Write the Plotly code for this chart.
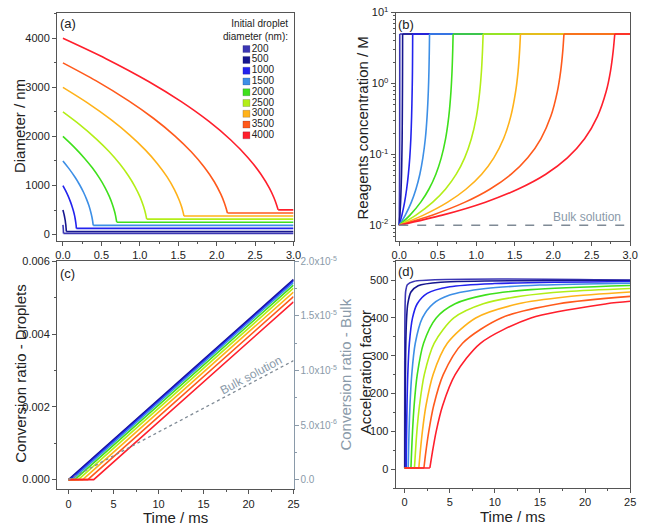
import plotly.graph_objects as go

W, H = 647, 525
FONT = "Liberation Sans, Arial, sans-serif"

# ---------------- data ----------------
diam_labels = ["200", "500", "1000", "1500", "2000", "2500", "3000", "3500", "4000"]
colors = ["#3b36b4", "#16168f", "#2323ee", "#3d8fe6", "#3fe01c",
          "#b3ee18", "#ffb21a", "#ff5a1c", "#ff1f2c"]

# panels (a) and (b): time (ms) per initial diameter
time_ab = [
    [0, 0.0014, 0.0028, 0.0039, 0.0048, 0.0055, 0.006, 0.0064, 0.0067, 0.0069, 0.00695, 0.007, 3.0],
    [0, 0.009, 0.018, 0.024, 0.030, 0.034, 0.038, 0.040, 0.042, 0.043, 0.0437, 0.044, 3.0],
    [0, 0.035, 0.07, 0.096, 0.119, 0.137, 0.151, 0.161, 0.168, 0.172, 0.174, 0.175, 3.0],
    [0, 0.079, 0.158, 0.217, 0.268, 0.307, 0.339, 0.362, 0.378, 0.386, 0.391, 0.394, 3.0],
    [0, 0.14, 0.28, 0.385, 0.476, 0.546, 0.602, 0.644, 0.672, 0.686, 0.695, 0.70, 3.0],
    [0, 0.218, 0.436, 0.600, 0.741, 0.850, 0.937, 1.003, 1.046, 1.068, 1.082, 1.09, 3.0],
    [0, 0.315, 0.63, 0.866, 1.071, 1.229, 1.355, 1.449, 1.512, 1.544, 1.564, 1.575, 3.0],
    [0, 0.428, 0.856, 1.177, 1.455, 1.669, 1.840, 1.969, 2.054, 2.097, 2.125, 2.14, 3.0],
    [0, 0.56, 1.12, 1.54, 1.904, 2.184, 2.408, 2.576, 2.688, 2.744, 2.780, 2.80, 3.0],
]
diameter_a = [
    [200, 179, 156, 135, 115, 96, 78, 62, 47, 38, 30, 25, 25],
    [500, 448, 389, 339, 288, 241, 196, 154, 118, 94, 75, 63, 63],
    [1000, 896, 779, 677, 575, 482, 392, 308, 235, 189, 151, 126, 126],
    [1500, 1344, 1168, 1016, 863, 723, 588, 461, 353, 283, 226, 189, 189],
    [2000, 1792, 1557, 1355, 1150, 964, 784, 615, 470, 378, 302, 252, 252],
    [2500, 2241, 1947, 1693, 1438, 1205, 980, 769, 588, 472, 377, 315, 315],
    [3000, 2689, 2336, 2032, 1726, 1446, 1176, 923, 706, 566, 453, 378, 378],
    [3500, 3137, 2725, 2371, 2013, 1687, 1372, 1077, 823, 661, 528, 441, 441],
    [4000, 3585, 3115, 2709, 2301, 1928, 1568, 1230, 941, 755, 604, 504, 504],
]
# reagent concentration (M), same profile for every droplet size
conc_b = [0.01, 0.01389, 0.02118, 0.0322, 0.0525, 0.0893, 0.166, 0.344, 0.769, 1.486, 2.91, 5.0, 5.0]
bulk_b_time = [0, 3.0]
bulk_b_conc = [0.01, 0.01]

# panel (c): conversion ratio in droplets
time_c = [
    [0, 0.007, 25], [0, 0.044, 25], [0, 0.175, 25], [0, 0.394, 25], [0, 0.70, 25],
    [0, 1.09, 25], [0, 1.575, 25], [0, 2.14, 25], [0, 2.80, 25],
]
conv_c = [
    [0, 0, 0.00550], [0, 0, 0.00549], [0, 0, 0.005462], [0, 0, 0.005413], [0, 0, 0.005346],
    [0, 0, 0.00526], [0, 0, 0.005154], [0, 0, 0.005029], [0, 0, 0.004884],
]
bulk_c_time = [0, 25]
bulk_c_conv = [0, 1.09e-5]

# panel (d): acceleration factor
time_d = [
    [0, 0.007, 0.0077, 0.0088, 0.0105, 0.014, 0.021, 0.035, 0.056, 0.12, 0.3, 1, 25],
    [0, 0.044, 0.048, 0.055, 0.066, 0.088, 0.132, 0.22, 0.35, 0.7, 1.5, 4, 25],
    [0, 0.175, 0.19, 0.22, 0.26, 0.35, 0.525, 0.875, 1.4, 2.5, 5, 10, 25],
    [0, 0.394, 0.433, 0.49, 0.59, 0.79, 1.18, 1.97, 3.15, 5, 9, 15, 25],
    [0, 0.70, 0.77, 0.875, 1.05, 1.4, 2.1, 3.5, 5.6, 9, 14, 25],
    [0, 1.09, 1.2, 1.36, 1.64, 2.18, 3.27, 5.45, 8.72, 13, 18, 25],
    [0, 1.575, 1.73, 1.97, 2.36, 3.15, 4.73, 7.88, 12.6, 18, 25],
    [0, 2.14, 2.35, 2.68, 3.21, 4.28, 6.42, 10.7, 17.1, 25],
    [0, 2.8, 3.08, 3.5, 4.2, 5.6, 8.4, 14.0, 22.4, 25],
]
accel_d = [
    [3, 3, 45, 100, 167, 250, 333, 400, 437.5, 471, 488, 496.5, 500],
    [3, 3, 45, 100, 167, 250, 333, 400, 437, 468.6, 485.3, 494.5, 499],
    [3, 3, 45, 100, 167, 250, 333, 400, 437.5, 465, 482.5, 491, 496.5],
    [3, 3, 45, 100, 167, 250, 333, 400, 437.5, 460.6, 478, 487, 492],
    [3, 3, 45, 100, 167, 250, 333, 400, 437.5, 461, 475, 486],
    [3, 3, 45, 100, 167, 250, 333, 400, 437.5, 458, 470, 478],
    [3, 3, 45, 100, 167, 250, 333, 400, 437.5, 456, 468.5],
    [3, 3, 45, 100, 167, 250, 333, 400, 437.5, 457],
    [3, 3, 45, 100, 167, 250, 333, 400, 437.5, 444],
]

BULK_GREY = "#8a9aa9"
AX = "#555555"
TXT = "#222222"

def px_x(p):
    return p / W

def px_y(p):
    return 1 - p / H

fig = go.Figure()
LW = 1.6

for i in range(len(diam_labels)):
    c = colors[i]
    t = time_ab[i]
    d = diameter_a[i]
    # (a) shrinking part + plateau
    fig.add_trace(go.Scatter(x=t[:-1], y=d[:-1], mode="lines", xaxis="x", yaxis="y",
                             line=dict(color=c, width=LW, shape="spline", smoothing=0.8),
                             showlegend=False, hoverinfo="skip"))
    fig.add_trace(go.Scatter(x=t[-2:], y=d[-2:], mode="lines", xaxis="x", yaxis="y",
                             line=dict(color=c, width=LW), showlegend=False, hoverinfo="skip"))
    # (b)
    fig.add_trace(go.Scatter(x=t[:-1], y=conc_b[:-1], mode="lines", xaxis="x2", yaxis="y2",
                             line=dict(color=c, width=LW, shape="spline", smoothing=0.8),
                             showlegend=False, hoverinfo="skip"))
    fig.add_trace(go.Scatter(x=t[-2:], y=conc_b[-2:], mode="lines", xaxis="x2", yaxis="y2",
                             line=dict(color=c, width=LW), showlegend=False, hoverinfo="skip"))
    # (c)
    fig.add_trace(go.Scatter(x=time_c[i], y=conv_c[i], mode="lines", xaxis="x3", yaxis="y3",
                             line=dict(color=c, width=LW), showlegend=False, hoverinfo="skip"))
    # (d)
    td, ad = time_d[i], accel_d[i]
    fig.add_trace(go.Scatter(x=td[:2], y=ad[:2], mode="lines", xaxis="x4", yaxis="y5",
                             line=dict(color=c, width=LW), showlegend=False, hoverinfo="skip"))
    fig.add_trace(go.Scatter(x=td[1:], y=ad[1:], mode="lines", xaxis="x4", yaxis="y5",
                             line=dict(color=c, width=LW, shape="spline", smoothing=0.8),
                             showlegend=False, hoverinfo="skip"))

# bulk lines
fig.add_trace(go.Scatter(x=bulk_b_time, y=bulk_b_conc, mode="lines", xaxis="x2", yaxis="y2",
                         line=dict(color="#7f8a95", width=1.3, dash="dash"),
                         showlegend=False, hoverinfo="skip"))
fig.add_trace(go.Scatter(x=bulk_c_time, y=bulk_c_conv, mode="lines", xaxis="x3", yaxis="y4",
                         line=dict(color="#7f8a95", width=1.3, dash="dot"),
                         showlegend=False, hoverinfo="skip"))

# legend drawn in its own small axis
fig.add_trace(go.Scatter(x=[7] * len(diam_labels), y=list(range(len(diam_labels))),
                         mode="markers+text", xaxis="x5", yaxis="y6",
                         marker=dict(symbol="square", size=7, color=colors,
                                     line=dict(color="rgba(0,0,60,0.35)", width=0.5)),
                         text=diam_labels, textposition="middle right",
                         textfont=dict(size=10, color=TXT, family=FONT),
                         showlegend=False, hoverinfo="skip"))

def axis(domain, rng, **kw):
    d = dict(domain=domain, range=rng, showline=True, linecolor=AX, linewidth=1,
             mirror=True, ticks="outside", ticklen=4, tickwidth=1, tickcolor=AX,
             showgrid=False, zeroline=False,
             tickfont=dict(size=11, color=TXT, family=FONT))
    d.update(kw)
    return d

xa = [px_x(54), px_x(295)]
xb = [px_x(399), px_x(638)]
ytop = [px_y(237), px_y(5.7)]
yc = [px_y(489), px_y(257.7)]
yd = [px_y(487.5), px_y(257.7)]

fig.update_layout(
    width=W, height=H, margin=dict(l=0, r=0, t=0, b=0),
    paper_bgcolor="white", plot_bgcolor="white",
    font=dict(family=FONT, color=TXT),
    showlegend=False,
    xaxis=axis(xa, [-0.077, 3.0], anchor="y", tickvals=[0, 0.5, 1, 1.5, 2, 2.5, 3],
               tickformat=".1f", minor=dict(ticks="outside", ticklen=2, dtick=0.25, tickcolor=AX)),
    yaxis=axis(ytop, [-127, 4523], anchor="x", tickvals=[0, 1000, 2000, 3000, 4000],
               minor=dict(ticks="outside", ticklen=2, dtick=500, tickcolor=AX)),
    xaxis2=axis(xb, [-0.047, 3.0], anchor="y2", tickvals=[0, 0.5, 1, 1.5, 2, 2.5, 3],
                tickformat=".1f", minor=dict(ticks="outside", ticklen=2, dtick=0.25, tickcolor=AX)),
    yaxis2=axis(ytop, [-2.22, 1.0], anchor="x2", type="log",
                tickvals=[0.01, 0.1, 1, 10],
                ticktext=["10<sup>-2</sup>", "10<sup>-1</sup>", "10<sup>0</sup>", "10<sup>1</sup>"],
                minor=dict(ticks="outside", ticklen=2, dtick="D1", tickcolor=AX)),
    xaxis3=axis(xa, [-1.28, 25], anchor="y3", tickvals=[0, 5, 10, 15, 20, 25],
                minor=dict(ticks="outside", ticklen=2, dtick=2.5, tickcolor=AX)),
    yaxis3=axis(yc, [-0.000271, 0.006], anchor="x3", mirror=False,
                tickvals=[0, 0.002, 0.004, 0.006], tickformat=".3f",
                minor=dict(ticks="outside", ticklen=2, dtick=0.001, tickcolor=AX)),
    yaxis4=axis(yc, [-9.04e-7, 2.0e-5], anchor="x3", overlaying="y3", side="right",
                linecolor=BULK_GREY, tickcolor=BULK_GREY, mirror=False,
                tickvals=[0, 5e-6, 1e-5, 1.5e-5, 2e-5],
                ticktext=["0.0", "5.0x10<sup>-6</sup>", "1.0x10<sup>-5</sup>",
                          "1.5x10<sup>-5</sup>", "2.0x10<sup>-5</sup>"],
                tickfont=dict(size=10, color=BULK_GREY, family=FONT),
                minor=dict(ticks="outside", ticklen=2, dtick=2.5e-6, tickcolor=BULK_GREY)),
    xaxis4=axis(xb, [-1.0, 25], anchor="y5", tickvals=[0, 5, 10, 15, 20, 25],
                minor=dict(ticks="outside", ticklen=2, dtick=2.5, tickcolor=AX)),
    yaxis5=axis(yd, [-50, 550], anchor="x4", tickvals=[0, 100, 200, 300, 400, 500],
                minor=dict(ticks="outside", ticklen=2, dtick=50, tickcolor=AX)),
    xaxis5=dict(domain=[px_x(240), px_x(290)], range=[0, 50], visible=False, anchor="y6",
                fixedrange=True),
    yaxis6=dict(domain=[px_y(136), px_y(37)], range=[8.54, -0.52], visible=False,
                anchor="x5", fixedrange=True),
)

def ann(text, x, y, size=15, color=TXT, angle=0, xanchor="center", **kw):
    fig.add_annotation(text=text, x=px_x(x), y=px_y(y), xref="paper", yref="paper",
                       showarrow=False, textangle=angle, xanchor=xanchor, yanchor="middle",
                       font=dict(size=size, color=color, family=FONT), **kw)

ann("Diameter / nm", 16, 121, angle=-90)
ann("Reagents concentration / M", 365, 123, angle=-90)
ann("Conversion ratio - Droplets", 16, 372, angle=-90)
ann("Conversion ratio - Bulk", 347, 373, angle=-90, color=BULK_GREY)
ann("Acceleration factor", 368, 370, angle=-90)
ann("Time / ms", 175, 517)
ann("Time / ms", 518, 516)
ann("(a)", 65, 17, size=13)
ann("(b)", 410, 18, size=13)
ann("(c)", 65, 270, size=13)
ann("(d)", 410, 268, size=13)
ann("Bulk solution", 594, 213, size=12, color=BULK_GREY)
ann("Bulk solution", 252, 373, size=12, color=BULK_GREY, angle=-28)
ann("Initial droplet<br>diameter (nm):", 291, 23, size=10, xanchor="right", align="right")

fig.write_html("out.html")
